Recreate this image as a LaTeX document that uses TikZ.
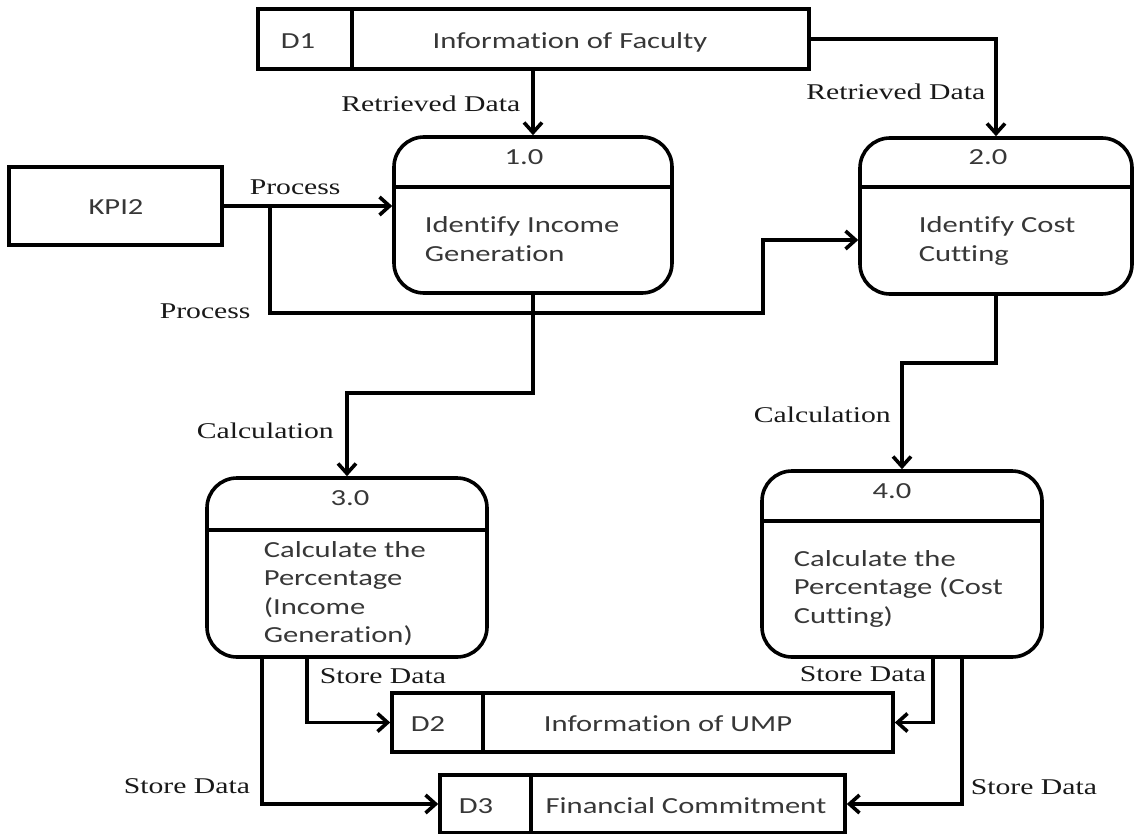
\documentclass[tikz,border=0pt]{standalone}
\usepackage{fontspec}
\usetikzlibrary{arrows.meta,calc}
\newfontfamily\boxfont[FakeStretch=1.33,Ligatures=NoCommon]{Carlito}
\newfontfamily\flowfont[FakeStretch=1.32]{Liberation Serif}
\definecolor{ink}{RGB}{25,25,25}
\definecolor{boxtext}{RGB}{55,55,55}
\begin{document}
\begin{tikzpicture}[x=1pt,y=-1pt,
  line width=3.6pt,
  >={Straight Barb[length=10pt,width=18pt]},
  flow/.style={->,draw=black},
  proc/.style={draw, rounded corners=30pt, inner sep=0pt},
  store/.style={draw, inner sep=0pt},
  ent/.style={draw, inner sep=0pt},
  btxt/.style={font=\boxfont\fontsize{23}{28.5}\selectfont, text=boxtext, inner sep=0pt},
  ltxt/.style={font=\flowfont\fontsize{22.5}{27}\selectfont, text=ink, inner sep=0pt},
]
\useasboundingbox (0,0) rectangle (1134,834);

% data stores
\node[store, minimum width=551pt, minimum height=60pt] (d1) at (533.5,39) {};
\draw ([xshift=96pt]d1.north west) -- ([xshift=96pt]d1.south west);
\node[store, minimum width=501pt, minimum height=59pt] (d2) at (642.5,722.5) {};
\draw ([xshift=93pt]d2.north west) -- ([xshift=93pt]d2.south west);
\node[store, minimum width=405pt, minimum height=58pt] (d3) at (642.5,804) {};
\draw ([xshift=93pt]d3.north west) -- ([xshift=93pt]d3.south west);

% external entity
\node[ent, minimum width=213pt, minimum height=78pt] (kpi) at (115.5,206) {};

% processes
\node[proc, minimum width=278pt, minimum height=156pt] (p1) at (533,215) {};
\draw (p1.west |- 0,187) -- (p1.east |- 0,187);
\node[proc, minimum width=272pt, minimum height=156pt] (p2) at (996,216) {};
\draw (p2.west |- 0,187) -- (p2.east |- 0,187);
\node[proc, minimum width=280pt, minimum height=179pt] (p3) at (347,567.5) {};
\draw (p3.west |- 0,530) -- (p3.east |- 0,530);
\node[proc, minimum width=280pt, minimum height=186pt] (p4) at (902,564) {};
\draw (p4.west |- 0,521) -- (p4.east |- 0,521);

% texts in boxes
\node[btxt, anchor=base] (d1id) at (298,49) {D1};
\node[btxt, anchor=base] (d1nm) at (570,49) {Information of Faculty};
\node[btxt, anchor=base] (kpit) at (116,215) {KPI2};
\node[btxt, anchor=base] (n1) at (524,165) {1.0};
\node[btxt, anchor=base] (n2) at (988,165) {2.0};
\node[btxt, anchor=base] (n3) at (350,505) {3.0};
\node[btxt, anchor=base] (n4) at (892,498) {4.0};
\node[btxt, anchor=base west] (t1) at (423,233) {\begin{tabular}[t]{@{}l@{}}Identify Income\\Generation\end{tabular}};
\node[btxt, anchor=base west] (t2) at (917,233) {\begin{tabular}[t]{@{}l@{}}Identify Cost\\Cutting\end{tabular}};
\node[btxt, anchor=base west] (t3) at (262,557) {\begin{tabular}[t]{@{}l@{}}Calculate the\\Percentage\\(Income\\Generation)\end{tabular}};
\node[btxt, anchor=base west] (t4) at (792,566) {\begin{tabular}[t]{@{}l@{}}Calculate the\\Percentage (Cost\\Cutting)\end{tabular}};
\node[btxt, anchor=base] (d2id) at (428,731) {D2};
\node[btxt, anchor=base] (d2nm) at (668,731) {Information of UMP};
\node[btxt, anchor=base] (d3id) at (476,813) {D3};
\node[btxt, anchor=base] (d3nm) at (686,813) {Financial Commitment};

% data flows
\draw[flow] (d1.south -| p1.north) -- (p1.north);
\draw[flow] (d1.east) -| (p2.north);
\draw[flow] (kpi.east) -- (kpi.east -| p1.west);
\coordinate (split) at ($(kpi.east)+(46,0)$);
\coordinate (bendlow) at (763,313);
\draw[flow] (split) |- (bendlow) |- ([yshift=-24pt]p2.west);
\draw[flow] (p1.south) -- ++(0,98) -| (p3.north);
\draw[flow] (p2.south) -- ++(0,67) -| (p4.north);
\draw[flow] ([xshift=-40pt]p3.south) |- (d2.west);
\draw[flow] ([xshift=-85pt]p3.south) |- (d3.west);
\draw[flow] ([xshift=31pt]p4.south) |- (d2.east);
\draw[flow] ([xshift=60pt]p4.south) |- (d3.east);

% flow labels
\node[ltxt, anchor=base east] (rd1) at (522,112) {Retrieved Data};
\node[ltxt, anchor=base east] (rd2) at (987,100) {Retrieved Data};
\node[ltxt, anchor=base west] (pr1) at (248,195) {Process};
\node[ltxt, anchor=base west] (pr2) at (158,318) {Process};
\node[ltxt, anchor=base west] (ca1) at (195,438) {Calculation};
\node[ltxt, anchor=base west] (ca2) at (752,422) {Calculation};
\node[ltxt, anchor=base west] (sd1) at (318,683) {Store Data};
\node[ltxt, anchor=base west] (sd2) at (122,793) {Store Data};
\node[ltxt, anchor=base west] (sd3) at (798,681) {Store Data};
\node[ltxt, anchor=base west] (sd4) at (969,794) {Store Data};
\end{tikzpicture}
\end{document}
